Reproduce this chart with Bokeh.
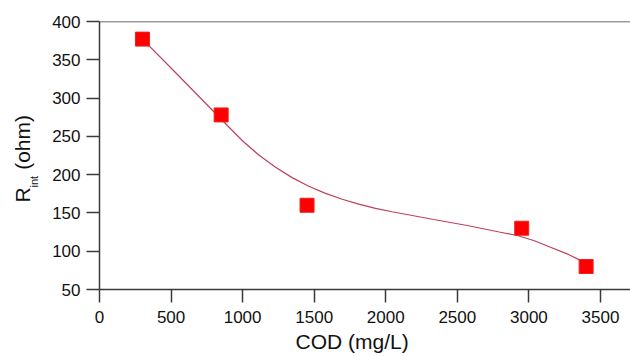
from bokeh.plotting import figure
from bokeh.models import Range1d, FixedTicker, Span, Title
from bokeh.embed import file_html
from bokeh.resources import INLINE

# measured points
cod = [300, 850, 1450, 2950, 3400]
rint = [377, 278, 160, 130, 80]

# smooth fitted curve
fit_x = [300, 517, 852, 997, 1113, 1230, 1346, 1462, 1579, 1696, 1811, 1928, 2045, 2138,
         2335, 2569, 2801, 2918, 3034, 3151, 3267, 3360, 3400]
fit_y = [377, 336, 272, 244.6, 225.6, 209.6, 196.1, 184.8, 175.5, 167.8, 161.4, 156.0, 151.5, 148.3,
         141.4, 133.6, 124.8, 120.5, 114, 105.2, 96.6, 88, 82]

x_ticks = [0, 500, 1000, 1500, 2000, 2500, 3000, 3500]
y_ticks = [50, 100, 150, 200, 250, 300, 350, 400]

x_title = "COD (mg/L)"
y_title_main = "R\u00a0\u00a0\u00a0(ohm)"
y_title_sub = "int"

FONT = "Liberation Sans"
AX = "#3a3a3a"
TXT = "#111111"

p = figure(width=630, height=356, output_backend="svg", toolbar_location=None,
           x_range=Range1d(0, 3710), y_range=Range1d(50, 400),
           min_border_left=99, min_border_right=0, min_border_top=21, min_border_bottom=67)
p.outline_line_color = None
p.grid.visible = False
p.background_fill_color = "white"
p.border_fill_color = "white"

for ax in (p.xaxis[0], p.yaxis[0]):
    ax.axis_line_color = AX
    ax.axis_line_width = 1.5
    ax.major_tick_line_color = AX
    ax.major_tick_line_width = 1.5
    ax.major_tick_out = 13
    ax.major_tick_in = 0
    ax.minor_tick_line_color = None
    ax.major_label_text_font = FONT
    ax.major_label_text_font_size = "17px"
    ax.major_label_text_color = TXT
    ax.major_label_standoff = 6
p.xaxis.ticker = FixedTicker(ticks=x_ticks)
p.yaxis.ticker = FixedTicker(ticks=y_ticks)
p.xaxis.major_label_standoff = 8

p.add_layout(Span(location=400, dimension="width", line_color=AX, line_width=1.5))

p.line(fit_x, fit_y, line_color="#c0405c", line_width=1.2)
p.scatter(cod, rint, marker="square", size=14, fill_color="#ff0000", line_color="#f02020")

# axis titles
p.add_layout(Title(text=x_title, align="left", offset=196, standoff=5,
                   text_font=FONT, text_font_size="21px", text_font_style="normal",
                   text_color=TXT), "below")
# thin spacer between the y tick labels and the subscript
p.add_layout(Title(text="\u00a0", standoff=7, text_font=FONT, text_font_size="1px",
                   text_font_style="normal", text_color="white"), "left")
p.add_layout(Title(text=y_title_sub, align="left", offset=102, standoff=0,
                   text_font=FONT, text_font_size="11px", text_font_style="normal",
                   text_color=TXT), "left")
p.add_layout(Title(text=y_title_main, align="left", offset=87, standoff=-16,
                   text_font=FONT, text_font_size="21px", text_font_style="normal",
                   text_color=TXT), "left")

open("out.html", "w").write(file_html(p, INLINE))
